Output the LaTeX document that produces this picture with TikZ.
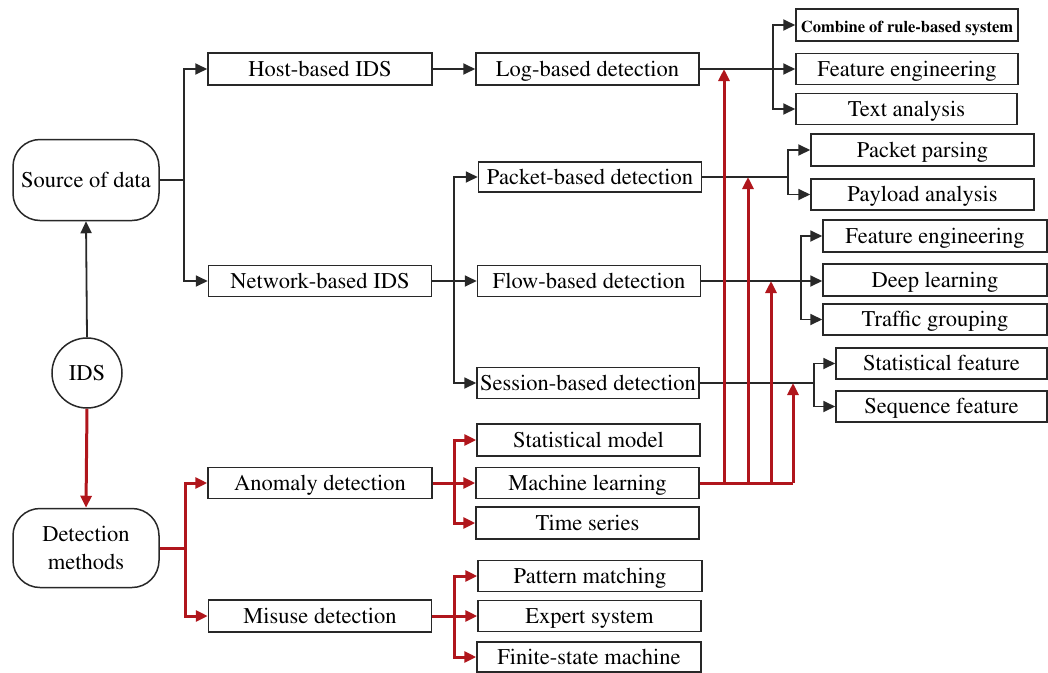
\documentclass[tikz,border=0pt]{standalone}
\usepackage[T1]{fontenc}
\renewcommand{\rmdefault}{ptm}
\usetikzlibrary{arrows.meta}

\definecolor{edgegray}{RGB}{40,40,40}
\definecolor{linkred}{RGB}{176,22,28}

\tikzset{
  box/.style={draw=edgegray, line width=1.5pt, fill=white, inner sep=0pt,
    minimum width=223pt, minimum height=31pt,
    text height=18pt, text depth=3.4pt,
    font=\fontsize{22.5}{28}\selectfont},
  roundbox/.style={draw=edgegray, line width=1.5pt, inner sep=0pt,
    minimum width=146pt, minimum height=80pt, rounded corners=27pt,
    align=center, font=\fontsize{22.5}{28}\selectfont},
  blackline/.style={draw=edgegray, line width=1.8pt},
  blackarr/.style={blackline, -{Triangle[length=12pt,width=11pt]}},
  redline/.style={draw=linkred, line width=3pt},
  redarr/.style={redline, -{Triangle[length=12pt,width=11pt]}}
}

\begin{document}
\begin{tikzpicture}[x=1pt, y=-1pt]
\useasboundingbox (0,0) rectangle (1048,672);

% root and the two families
\node[circle, draw=edgegray, line width=1.5pt, minimum size=70pt, inner sep=0pt,
      font=\fontsize{22.5}{28}\selectfont] (ids) at (87,373) {IDS};
\node[roundbox, minimum height=81pt] (source) at (86,180) {Source of data};
\node[roundbox, minimum height=79pt] (detect) at (86,548) {Detection\\methods};

% second level
\node[box, minimum width=224pt, minimum height=32pt] (host) at (320,69) {Host-based IDS};
\node[box] (net) at (320,281) {Network-based IDS};
\node[box, minimum width=224pt] (anom) at (320,483) {Anomaly detection};
\node[box, minimum height=32pt] (misuse) at (320,616) {Misuse detection};

% third level
\node[box, minimum height=32pt] (log) at (587.5,69) {Log-based detection};
\node[box, minimum height=30pt] (packet) at (590,177) {Packet-based detection};
\node[box] (flow) at (589,281) {Flow-based detection};
\node[box, minimum width=222pt] (session) at (588,383) {Session-based detection};
\node[box, minimum height=32pt] (statm) at (588.5,440) {Statistical model};
\node[box] (ml) at (587.5,483) {Machine learning};
\node[box, minimum height=32pt] (ts) at (587.5,523) {Time series};
\node[box, minimum width=224pt] (pm) at (590,576) {Pattern matching};
\node[box] (es) at (589.5,616) {Expert system};
\node[box, minimum width=224pt, minimum height=30pt] (fsm) at (589,657) {Finite-state machine};

% leaves
\node[box, minimum width=222pt, minimum height=32pt,
      font=\fontsize{16.5}{20}\selectfont\bfseries] (comb) at (907,25) {Combine of rule-based system};
\node[box, minimum width=222pt] (fe1) at (907,69) {Feature engineering};
\node[box, minimum width=221pt] (ta) at (906.5,109) {Text analysis};
\node[box, minimum height=32pt] (pp) at (922.5,150) {Packet parsing};
\node[box] (pa) at (922.5,194.5) {Payload analysis};
\node[box, minimum width=224pt, minimum height=32pt] (fe2) at (935,236) {Feature engineering};
\node[box, minimum width=224pt, minimum height=32pt] (dl) at (935,280) {Deep learning};
\node[box, minimum width=224pt] (tg) at (935,319.5) {Traffic grouping};
\node[box, minimum width=211pt] (sf) at (941.5,363.5) {Statistical feature};
\node[box, minimum width=211pt] (sq) at (941.5,406.5) {Sequence feature};

% junction points
\coordinate (sj) at (184,180);
\coordinate (dj) at (185,548);
\coordinate (nj) at (454,281);
\coordinate (aj) at (454,483);
\coordinate (mj) at (454,616);
\coordinate (lj) at (773,69);
\coordinate (pj) at (788,177);
\coordinate (fj) at (801,281);
\coordinate (ssj) at (814,383);
\coordinate (r1) at (724,483);
\coordinate (r2) at (748,483);
\coordinate (r3) at (771,483);
\coordinate (r4) at (793,483);

% black tree
\draw[blackarr] (ids.north) -- (source.south);
\draw[blackline] (source.east) -- (sj);
\draw[blackarr] (sj) |- (host.west);
\draw[blackarr] (sj) |- (net.west);
\draw[blackarr] (host.east) -- (log.west);

\draw[blackline] (net.east) -- (nj);
\draw[blackarr] (nj) |- (packet.west);
\draw[blackarr] (nj) -- (flow.west);
\draw[blackarr] (nj) |- (session.west);

\draw[blackline] (log.east) -- (lj);
\draw[blackarr] (lj) |- (comb.west);
\draw[blackarr] (lj) -- (fe1.west);
\draw[blackarr] (lj) |- (ta.west);

\draw[blackline] (packet.east) -- (pj);
\draw[blackarr] (pj) |- (pp.west);
\draw[blackarr] (pj) |- (pa.west);

\draw[blackline] (flow.east) -- (fj);
\draw[blackarr] (fj) |- (fe2.west);
\draw[blackarr] (fj) -- (fj -| dl.west);
\draw[blackarr] (fj) |- (tg.west);

\draw[blackline] (session.east) -- (ssj);
\draw[blackarr] (ssj) |- (sf.west);
\draw[blackarr] (ssj) |- (sq.west);

% red tree
\draw[redarr] (ids.south) -- (detect.north);
\draw[redline] (detect.east) -- (dj);
\draw[redarr] (dj) |- (anom.west);
\draw[redarr] (dj) |- (misuse.west);

\draw[redline] (anom.east) -- (aj);
\draw[redarr] (aj) |- (statm.west);
\draw[redarr] (aj) -- (ml.west);
\draw[redarr] (aj) |- (ts.west);

\draw[redline] (misuse.east) -- (mj);
\draw[redarr] (mj) |- (pm.west);
\draw[redarr] (mj) -- (es.west);
\draw[redarr] (mj) |- (fsm.west);

% machine learning feeds every detection branch
\draw[redline] (ml.east) -- (r4);
\draw[redarr] (r1) -- (r1 |- log.east);
\draw[redarr] (r2) -- (r2 |- pj);
\draw[redarr] (r3) -- (r3 |- fj);
\draw[redarr] (r4) -- (r4 |- ssj);
\end{tikzpicture}
\end{document}
